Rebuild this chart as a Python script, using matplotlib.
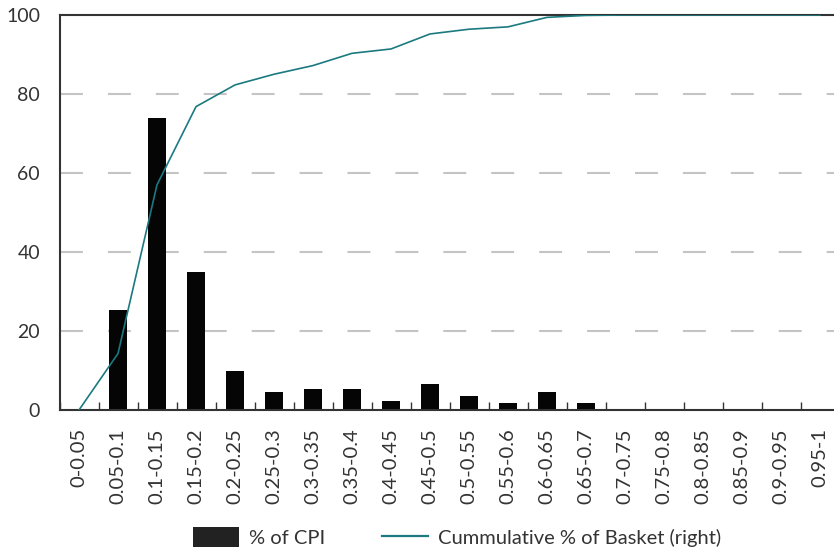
import matplotlib
matplotlib.use("Agg")
import matplotlib.pyplot as plt
import numpy as np
from matplotlib.patches import Patch
from matplotlib.lines import Line2D

categories = ["0-0.05", "0.05-0.1", "0.1-0.15", "0.15-0.2", "0.2-0.25", "0.25-0.3",
              "0.3-0.35", "0.35-0.4", "0.4-0.45", "0.45-0.5", "0.5-0.55", "0.55-0.6",
              "0.6-0.65", "0.65-0.7", "0.7-0.75", "0.75-0.8", "0.8-0.85", "0.85-0.9",
              "0.9-0.95", "0.95-1"]
pct_cpi = [0, 25.2, 74.0, 35.0, 10.0, 4.6, 5.2, 5.2, 2.4, 6.5, 3.5, 1.8, 4.6, 1.8,
           0, 0, 0, 0, 0, 0]
cumulative = [0, 14.3, 57.0, 76.8, 82.3, 85.0, 87.2, 90.3, 91.4, 95.2, 96.4, 97.0,
              99.4, 99.9, 100, 100, 100, 100, 100, 100]
yticks = [0, 20, 40, 60, 80, 100]

plt.rcParams['font.family'] = ['Lato', 'DejaVu Sans']

W, H = 834, 549
fig = plt.figure(figsize=(W / 100, H / 100), dpi=100)
left, right, bottom, top = 59.5, 839.5, 410, 15
ax = fig.add_axes([left / W, 1 - bottom / H, (right - left) / W, (bottom - top) / H])

x = np.arange(len(categories))
teal = "#1a7a80"

for yv in yticks[1:-1]:
    ax.axhline(yv, color="#c4c4c4", lw=1.5, dashes=(11, 12), zorder=0)

ax.bar(x, pct_cpi, width=0.45, color="#050505", zorder=2)

ax2 = ax.twinx()
ax2.plot(x, cumulative, color=teal, lw=1.2, zorder=3)
ax2.set_ylim(0, 100)
ax2.set_yticks([])
for s in ax2.spines.values():
    s.set_visible(False)

ax.set_xlim(-0.5, len(categories) - 0.5)
ax.set_ylim(0, 100)
ax.set_yticks(yticks)
ax.tick_params(axis='y', length=0, pad=14, labelsize=14, colors="#333333")
ax.set_xticks(x)
ax.set_xticklabels(categories, rotation=90, fontsize=14.5, color="#333333")
ax.tick_params(axis='x', length=0, pad=13)
ax.set_xticks(np.arange(len(categories) + 1) - 0.5, minor=True)
ax.tick_params(axis='x', which='minor', direction='in', length=6, width=1, color="#333333")

for side in ["left", "bottom", "top"]:
    ax.spines[side].set_color("#333333")
    ax.spines[side].set_linewidth(1.5)
ax.spines["right"].set_visible(False)

handles = [Patch(facecolor="#222222", edgecolor="none", label="% of CPI"),
           Line2D([0], [0], color=teal, lw=1.6, label="Cummulative % of Basket (right)")]
fig.legend(handles=handles, loc="center", bbox_to_anchor=(457 / W, 1 - 537 / H),
           ncol=2, frameon=False, fontsize=14.5, handlelength=2.3, handleheight=1.1,
           columnspacing=2.8, handletextpad=0.5, labelcolor="#333333")

fig.savefig("out.png", dpi=100)
